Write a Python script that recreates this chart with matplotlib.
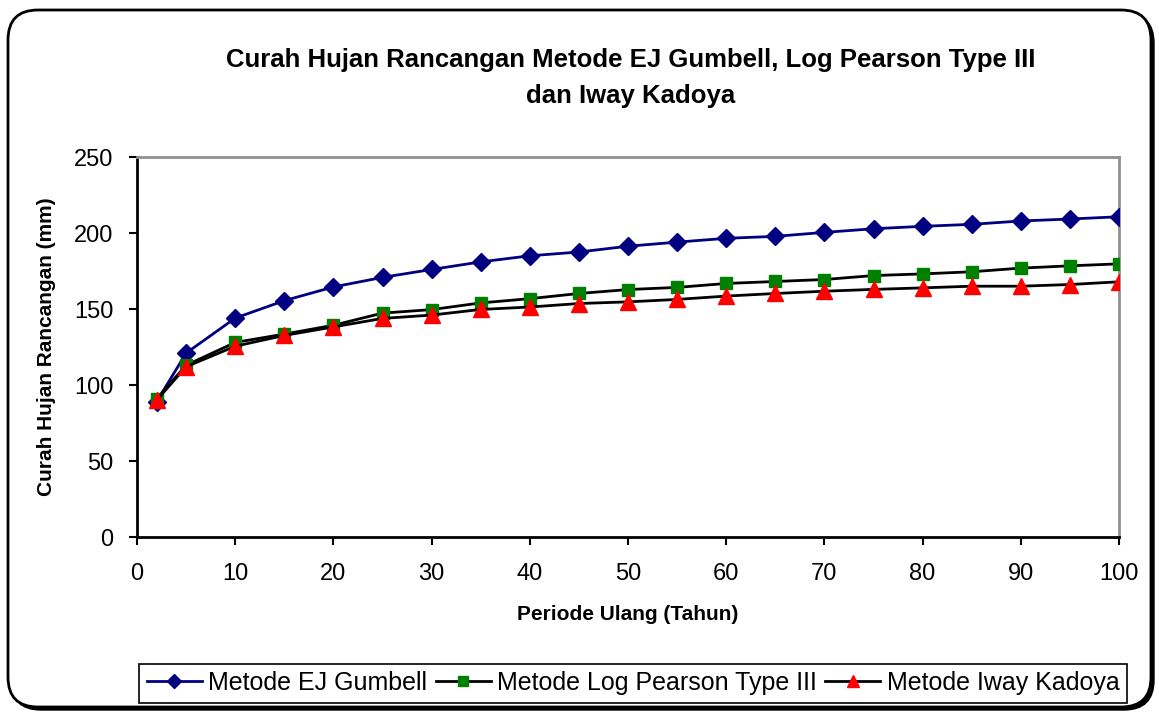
import matplotlib
matplotlib.use("Agg")
import matplotlib.pyplot as plt
from matplotlib.patches import FancyBboxPatch

plt.rcParams['font.family'] = ['Liberation Sans', 'DejaVu Sans']

periode = [2, 5, 10, 15, 20, 25, 30, 35, 40, 45, 50, 55, 60, 65, 70, 75, 80, 85, 90, 95, 100]
gumbell = [89, 121, 144, 155.5, 164.5, 170.8, 176, 181, 185, 187.5, 191.3, 194, 196.5, 197.8,
           200.4, 202.8, 204.4, 205.7, 207.9, 209.2, 210.7]
log_pearson = [91, 113, 128, 133.5, 139.3, 147.3, 149.6, 154, 156.8, 160.2, 162.8, 164.2,
               166.8, 168.1, 169.4, 172, 173.1, 174.5, 176.9, 178.4, 179.7]
iway_kadoya = [90, 112, 125.5, 132.6, 138.2, 143.8, 146, 149.7, 151.3, 153.6, 154.7, 156.3,
               158.5, 160.2, 161.7, 162.9, 163.9, 165, 165, 166.1, 167.9]

title = "Curah Hujan Rancangan Metode EJ Gumbell, Log Pearson Type III\ndan Iway Kadoya"
xlabel = "Periode Ulang (Tahun)"
ylabel = "Curah Hujan Rancangan (mm)"
labels = ["Metode EJ Gumbell", "Metode Log Pearson Type III", "Metode Iway Kadoya"]

W, H = 1159, 713
fig = plt.figure(figsize=(W / 100, H / 100), dpi=100)

# outer rounded frame with shadow
shadow = FancyBboxPatch((0.11, 0.03), 11.43, 6.97, boxstyle="round,pad=0,rounding_size=0.3",
                        transform=fig.dpi_scale_trans, facecolor='black', edgecolor='black',
                        linewidth=1, zorder=-3)
frame = FancyBboxPatch((0.08, 0.06), 11.43, 6.97, boxstyle="round,pad=0,rounding_size=0.3",
                       transform=fig.dpi_scale_trans, facecolor='white', edgecolor='black',
                       linewidth=2, zorder=-2)
fig.patches.extend([shadow, frame])

ax = fig.add_axes([137 / W, 1 - 537 / H, (1119 - 137) / W, (537 - 157) / H])
ax.set_zorder(1)
ax.set_facecolor('white')

l1, = ax.plot(periode, gumbell, color='#000080', linewidth=2, marker='D', markersize=9,
              markerfacecolor='#000080', markeredgecolor='#000080', zorder=3)
l2, = ax.plot(periode, log_pearson, color='black', linewidth=2, marker='s', markersize=9,
              markerfacecolor='#008000', markeredgecolor='#008000', zorder=3)
l3, = ax.plot(periode, iway_kadoya, color='black', linewidth=2, marker='^', markersize=11,
              markerfacecolor='#FF0000', markeredgecolor='#FF0000', zorder=4)

ax.set_xlim(0, 100)
ax.set_ylim(0, 250)
ax.set_xticks(range(0, 101, 10))
ax.set_yticks(range(0, 251, 50))
ax.tick_params(axis='both', direction='out', length=6, width=1.5, labelsize=17, pad=11)
ax.tick_params(axis='x', pad=13)

for s in ['left', 'bottom']:
    ax.spines[s].set_color('black')
    ax.spines[s].set_linewidth(2)
for s in ['top', 'right']:
    ax.spines[s].set_color('#909090')
    ax.spines[s].set_linewidth(2)

ax.set_xlabel(xlabel, fontsize=15, fontweight='bold', labelpad=14)
ax.set_ylabel(ylabel, fontsize=15, fontweight='bold', labelpad=13)

fig.text(631 / W, 1 - 78 / H, title, ha='center', va='center', fontsize=18.5,
         fontweight='bold', linespacing=1.6)

leg = fig.legend([l1, l2, l3], labels, loc='center', bbox_to_anchor=(633 / W, 1 - 683 / H),
                 ncol=3, fontsize=18, frameon=True, fancybox=False, edgecolor='black',
                 framealpha=1, handlelength=2.2, handletextpad=0.25, columnspacing=0.35,
                 borderpad=0.3, markerscale=0.8)
leg.get_frame().set_linewidth(1.2)

fig.savefig("out.png", dpi=100)
